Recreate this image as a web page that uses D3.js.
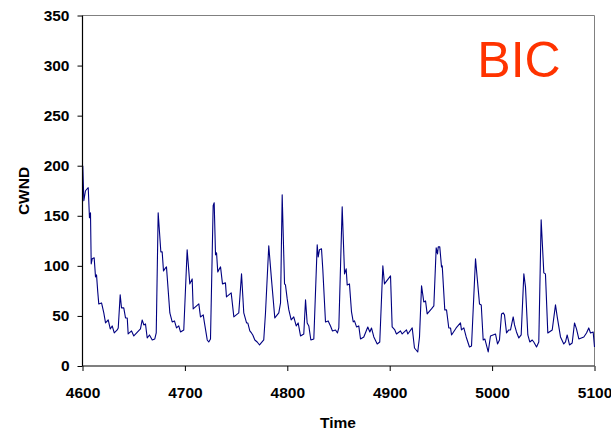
<!DOCTYPE html>
<html>
<head>
<meta charset="utf-8">
<script src="https://cdn.jsdelivr.net/npm/d3@7"></script>
<style>
  html, body { margin: 0; padding: 0; background: #fff; }
  svg { display: block; }
  text { font-family: "Liberation Sans", Arial, sans-serif; }
</style>
</head>
<body>
<svg id="chart" width="611" height="432"></svg>
<script>
// Time (x) and CWND (y) samples
const times = [
  4600.3, 4601.3, 4602.9, 4605.6, 4606.8, 4607.8, 4608.5, 4609.5, 4611.4, 4612.7,
  4613.7, 4614.9, 4615.9, 4618.6, 4620.8, 4622.5, 4625.1, 4627.1, 4629, 4631,
  4633.9, 4634.9, 4636.8, 4638.1, 4640.3, 4642, 4643.7, 4644.6, 4647.9, 4650.1,
  4656.6, 4658.3, 4659.9, 4661.5, 4663.2, 4665.4, 4668.1, 4670.6, 4672, 4673.9,
  4676.5, 4677.8, 4679.1, 4681.1, 4682, 4685.3, 4687.6, 4689.8, 4691.8, 4694,
  4695.7, 4698.9, 4702.2, 4704.8, 4707.1, 4708.1, 4713.6, 4715.2, 4717.9, 4719.1,
  4721.8, 4723.3, 4725, 4727.6, 4728.6, 4729.9, 4730.9, 4732.1, 4734.8, 4736.7,
  4739.6, 4740.6, 4745.2, 4747.8, 4752.6, 4755.3, 4757.5, 4760.2, 4761.4, 4763.4,
  4765, 4766.3, 4768.3, 4770.6, 4772.9, 4777, 4778.7, 4781.9, 4784.6, 4787.8,
  4791.7, 4793.4, 4795, 4797.3, 4798.2, 4799.9, 4801.5, 4803.8, 4806.3, 4808.7,
  4810.6, 4812.9, 4816.1, 4817.8, 4819.4, 4821, 4823, 4825.9, 4829.2, 4830.2,
  4831.4, 4833.4, 4834.7, 4837.3, 4839.9, 4842.2, 4844.1, 4847.1, 4849, 4850.3,
  4853.6, 4855.9, 4857.5, 4858.5, 4860.7, 4862.7, 4864.4, 4865.6, 4867.6, 4869.8,
  4871.5, 4874.7, 4878.6, 4880.6, 4882.2, 4884.5, 4887.8, 4890.3, 4893.3, 4894.9,
  4900.8, 4902.4, 4905, 4906.6, 4910.5, 4912.2, 4916.4, 4917.7, 4922, 4924.2,
  4927.4, 4929.1, 4931.1, 4933.3, 4935, 4936.6, 4940.8, 4943.1, 4945.4, 4946.7,
  4947.4, 4948.9, 4950.6, 4951.3, 4953.8, 4955.5, 4957.7, 4959.4, 4960.4, 4964.9,
  4969.1, 4970.1, 4972.4, 4974.7, 4977.9, 4979.9, 4983.8, 4987.7, 4989.4, 4991.3,
  4992.9, 4996.2, 4998.4, 5003.3, 5005.3, 5007.2, 5009.2, 5010.8, 5012.1, 5014.1,
  5016.3, 5018, 5020.6, 5021.9, 5023.8, 5026.1, 5028.4, 5031, 5032.6, 5034.9,
  5036.8, 5039.2, 5040.7, 5043.4, 5045.6, 5047.9, 5050.5, 5052.1, 5054.4, 5058.7,
  5061.9, 5063.6, 5066.8, 5070, 5071.7, 5073.3, 5075.6, 5078.2, 5080.5, 5082.4,
  5084.7, 5089.6, 5092.2, 5094.4, 5096.1, 5098.7, 5100
];
const cwnd = [
  200, 165, 175, 178, 148, 153, 102, 107, 108, 89,
  91, 74, 62, 63, 53, 43, 46, 37, 40, 33,
  36, 38, 71, 58, 58, 48, 48, 32, 35, 30,
  37, 46, 41, 42, 28, 31, 26, 27, 33, 153,
  114, 114, 95, 98, 99, 53, 44, 45, 38, 40,
  34, 36, 116, 82, 87, 57, 62, 49, 51, 43,
  26, 24, 27, 160, 163, 111, 113, 94, 99, 82,
  83, 69, 73, 49, 53, 92, 53, 43, 43, 35,
  33, 31, 26, 24, 21, 26, 53, 120, 86, 48,
  53, 63, 171, 82, 81, 67, 56, 46, 49, 40,
  43, 30, 32, 66, 43, 40, 26, 27, 121, 109,
  116, 117, 96, 44, 45, 40, 35, 36, 33, 38,
  159, 92, 97, 81, 82, 54, 44, 45, 39, 40,
  27, 29, 39, 34, 38, 29, 22, 24, 100, 82,
  90, 39, 36, 32, 35, 32, 36, 32, 38, 18,
  14, 29, 80, 64, 65, 52, 57, 60, 118, 112,
  119, 119, 99, 100, 56, 56, 38, 38, 31, 38,
  43, 36, 38, 29, 19, 20, 107, 62, 61, 26,
  27, 14, 30, 32, 22, 26, 52, 53, 51, 33,
  36, 36, 49, 41, 34, 28, 31, 92, 79, 31,
  24, 26, 24, 19, 24, 146, 93, 92, 33, 36,
  61, 49, 29, 22, 24, 31, 21, 23, 43, 37,
  27, 29, 33, 38, 33, 34, 19
];
const xTicks = [4600, 4700, 4800, 4900, 5000, 5100];
const yTicks = [0, 50, 100, 150, 200, 250, 300, 350];
const xTitle = "Time";
const yTitle = "CWND";
const label = "BIC";

const svg = d3.select("#chart");
const mLeft = 82.5, mRight = 594.5, mTop = 15.5, mBottom = 366;

const x = d3.scaleLinear().domain([4600, 5100]).range([mLeft, mRight]);
const y = d3.scaleLinear().domain([0, 350]).range([mBottom, mTop]);

// gray frame (top and right)
svg.append("line").attr("x1", mLeft).attr("x2", mRight).attr("y1", mTop).attr("y2", mTop)
  .attr("stroke", "#808080").attr("stroke-width", 1);
svg.append("line").attr("x1", mRight).attr("x2", mRight).attr("y1", mTop).attr("y2", mBottom)
  .attr("stroke", "#808080").attr("stroke-width", 1);

// data line
const pts = times.map((t, i) => [t, cwnd[i]]);
svg.append("path")
  .datum(pts)
  .attr("fill", "none")
  .attr("stroke", "#000080")
  .attr("stroke-width", 1.1)
  .attr("stroke-linejoin", "round")
  .attr("d", d3.line().x(d => x(d[0])).y(d => y(d[1])));

// axes
const xAxis = svg.append("g").attr("transform", `translate(0,${mBottom})`)
  .call(d3.axisBottom(x).tickValues(xTicks).tickSize(5).tickPadding(16).tickFormat(d3.format("d")));
const yAxis = svg.append("g").attr("transform", `translate(${mLeft},0)`)
  .call(d3.axisLeft(y).tickValues(yTicks).tickSize(5).tickPadding(8).tickFormat(d3.format("d")));
[xAxis, yAxis].forEach(g => {
  g.select(".domain").attr("stroke", "#000").attr("stroke-width", 1.2);
  g.selectAll(".tick line").attr("stroke", "#000");
  g.selectAll(".tick text")
    .attr("fill", "#000")
    .style("font-family", '"Liberation Sans", Arial, sans-serif')
    .style("font-weight", "bold")
    .style("font-size", "15.5px");
});
yAxis.select(".domain").attr("d", `M0,${mTop}V${mBottom}`);
xAxis.select(".domain").attr("d", `M${mLeft},0H${mRight}`);

// axis titles
svg.append("text")
  .attr("x", 338).attr("y", 428)
  .attr("text-anchor", "middle")
  .style("font-weight", "bold").style("font-size", "15.5px")
  .text(xTitle);
svg.append("text")
  .attr("transform", "translate(28.7,191) rotate(-90)")
  .attr("text-anchor", "middle")
  .style("font-weight", "bold").style("font-size", "15.5px")
  .text(yTitle);

// big label
svg.append("text")
  .attr("x", 519).attr("y", 76.7)
  .attr("text-anchor", "middle")
  .attr("fill", "#FF3300")
  .style("font-size", "50px")
  .text(label);
</script>
</body>
</html>
